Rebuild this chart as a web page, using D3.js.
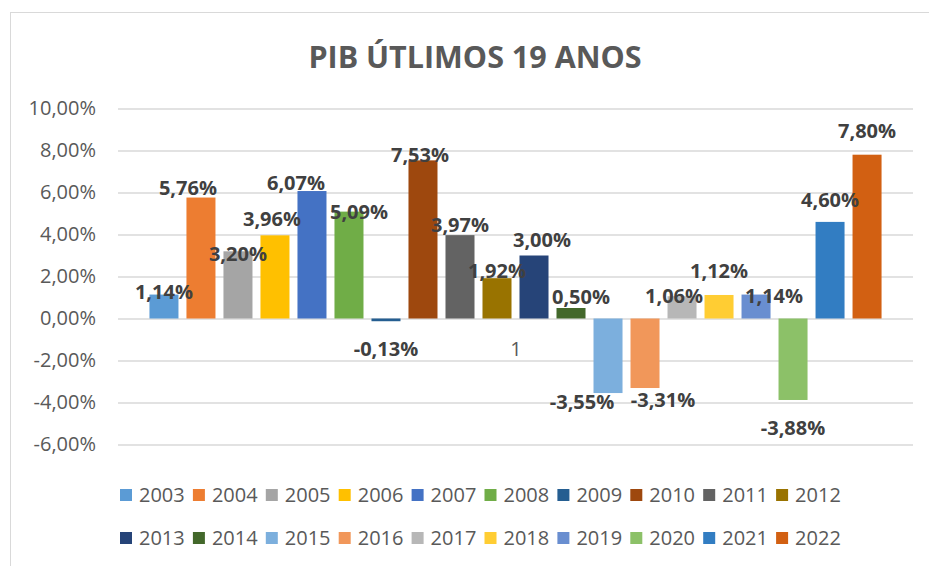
<!DOCTYPE html>
<html>
<head>
<meta charset="utf-8">
<script src="https://cdn.jsdelivr.net/npm/d3@7"></script>
<style>
  body { margin: 0; background: #fff; }
  svg { display: block; font-family: "Open Sans", "Noto Sans", sans-serif; }
</style>
</head>
<body>
<svg id="chart" width="929" height="566"></svg>
<script>
// data
const years = ['2003','2004','2005','2006','2007','2008','2009','2010','2011','2012',
               '2013','2014','2015','2016','2017','2018','2019','2020','2021','2022'];
const pib = [1.14, 5.76, 3.20, 3.96, 6.07, 5.09, -0.13, 7.53, 3.97, 1.92,
             3.00, 0.50, -3.55, -3.31, 1.06, 1.12, 1.14, -3.88, 4.60, 7.80];
const yTicks = [-6, -4, -2, 0, 2, 4, 6, 8, 10];
const colors = ['#5B9BD5','#ED7D31','#A5A5A5','#FFC000','#4472C4','#70AD47','#255E91','#9E480E','#636363','#997300',
                '#264478','#43682B','#7CAFDD','#F1975A','#B7B7B7','#FFCD33','#698ED0','#8CC168','#327DC2','#D26012'];

// labels were moved by hand in the original, so keep the nudges (px) apart
const labelNudge = [[0,4],[-13,-3],[0,10],[-3,-9],[-16,-1],[10,7],[0,35],[-3,2],[0,-3],[0,0],
                    [8,-9],[10,-4],[-26,16],[18,19],[-8,7],[0,-17],[18,8],[0,35],[0,-15],[0,-17]];

const fmt = v => v.toFixed(2).replace('.', ',') + '%';

const svg = d3.select('#chart');

// chart frame
svg.append('rect')
   .attr('x', 10.5).attr('y', 12.5)
   .attr('width', 940).attr('height', 580)
   .attr('fill', '#fff')
   .attr('stroke', '#d9d9d9');

// title
svg.append('text')
   .attr('x', 475).attr('y', 68)
   .attr('text-anchor', 'middle')
   .attr('font-size', 30.5)
   .attr('font-weight', 'bold')
   .attr('fill', '#595959')
   .text('PIB ÚTLIMOS 19 ANOS');

const x = d3.scaleBand()
            .domain(years)
            .range([118, 913])
            .paddingInner(0.216)
            .paddingOuter(0.85);

const y = d3.scaleLinear()
            .domain([-6, 10])
            .range([444.5, 108.5]);

// y axis + gridlines
const yAxis = svg.append('g')
   .attr('transform', 'translate(118,0)')
   .call(d3.axisLeft(y)
           .tickValues(yTicks)
           .tickSize(-(913 - 118))
           .tickPadding(22)
           .tickFormat(fmt));
yAxis.select('.domain').remove();
yAxis.selectAll('.tick line').attr('stroke', '#d9d9d9').attr('stroke-width', 1.5);
yAxis.selectAll('.tick text')
     .attr('fill', '#595959')
     .attr('font-size', 20)
     .attr('font-family', '"Open Sans", sans-serif');

// bars
svg.selectAll('rect.bar')
   .data(pib)
   .enter().append('rect')
   .attr('class', 'bar')
   .attr('x', (d, i) => x(years[i]))
   .attr('y', d => y(Math.max(d, 0)))
   .attr('width', x.bandwidth())
   .attr('height', d => Math.abs(y(d) - y(0)))
   .attr('fill', (d, i) => colors[i]);

// data labels
svg.selectAll('text.lbl')
   .data(pib)
   .enter().append('text')
   .attr('class', 'lbl')
   .attr('x', (d, i) => x(years[i]) + x.bandwidth() / 2 + labelNudge[i][0])
   .attr('y', (d, i) => y(d) + labelNudge[i][1])
   .attr('text-anchor', 'middle')
   .attr('font-size', 20)
   .attr('font-weight', 'bold')
   .attr('fill', '#404040')
   .text(d => fmt(d));

// stray "1" label that sits in the original
svg.append('text')
   .attr('x', 516).attr('y', 356)
   .attr('text-anchor', 'middle')
   .attr('font-size', 20)
   .attr('fill', '#595959')
   .text('1');

// legend, two rows of ten
const legend = svg.selectAll('g.leg')
   .data(years)
   .enter().append('g')
   .attr('class', 'leg')
   .attr('transform', (d, i) => `translate(${120 + (i % 10) * 72.9},${i < 10 ? 495 : 538})`);

legend.append('rect')
   .attr('x', 0).attr('y', -6)
   .attr('width', 12).attr('height', 12)
   .attr('fill', (d, i) => colors[i]);

legend.append('text')
   .attr('x', 19).attr('y', 0)
   .attr('dy', '0.35em')
   .attr('font-size', 20)
   .attr('fill', '#595959')
   .text(d => d);
</script>
</body>
</html>
